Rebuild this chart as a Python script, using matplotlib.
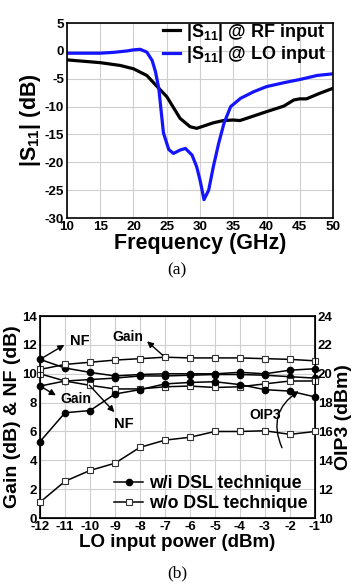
import matplotlib
matplotlib.use("Agg")
import matplotlib.pyplot as plt
from matplotlib.patches import FancyArrowPatch

plt.rcParams['font.family'] = ['Liberation Sans', 'DejaVu Sans']
plt.rcParams['font.weight'] = 'bold'
plt.rcParams['axes.unicode_minus'] = False
plt.rcParams['mathtext.fontset'] = 'custom'
plt.rcParams['mathtext.rm'] = 'Liberation Sans:bold'
plt.rcParams['mathtext.it'] = 'Liberation Sans:bold'
plt.rcParams['mathtext.bf'] = 'Liberation Sans:bold'
plt.rcParams['mathtext.default'] = 'rm'

# ---------------- (a) S11 data ----------------
freq_rf = [10, 12, 15, 18, 20, 22, 23.8, 25, 27, 28.5, 29.5, 30.5, 32, 33.5, 35, 36, 38, 40, 42.6, 44.1, 45, 46, 48, 50]
s11_rf = [-1.6, -1.8, -2.1, -2.6, -3.2, -4.4, -6.7, -8.2, -12.1, -13.6, -13.9, -13.5, -12.9, -12.5, -12.4, -12.5, -11.7, -10.9, -9.9, -8.8, -8.6, -8.6, -7.6, -6.7]

freq_lo = [10, 15, 17, 19, 20, 21, 22, 22.8, 23.3, 23.8, 24.5, 25.3, 26, 27, 27.8, 28.8, 29.5, 30, 30.6, 31.3, 32, 32.8, 33.6, 34.6, 36.1, 38.1, 40, 42.6, 45.1, 47.6, 50]
s11_lo = [-0.4, -0.4, -0.25, 0.0, 0.2, 0.3, -0.2, -1.7, -3.7, -6.7, -14.7, -17.7, -18.4, -17.8, -17.5, -18.7, -20.8, -23.2, -26.7, -25.0, -20.8, -16.6, -13.0, -10.0, -8.5, -7.3, -6.4, -5.7, -5.1, -4.4, -4.1]

# ---------------- (b) data ----------------
lo_power = [-12, -11, -10, -9, -8, -7, -6, -5, -4, -3, -2, -1]
nf_dsl = [11.0, 10.4, 10.1, 9.85, 9.95, 10.0, 10.0, 10.0, 10.1, 10.0, 10.25, 10.35]
gain_dsl = [9.15, 9.5, 9.6, 9.7, 9.85, 9.85, 9.9, 9.95, 9.95, 9.9, 9.8, 9.7]
oip3_dsl = [15.3, 17.3, 17.45, 18.6, 18.9, 19.3, 19.4, 19.45, 19.25, 18.9, 18.8, 18.4]
nf_nodsl = [10.0, 9.5, 9.2, 8.95, 8.95, 9.1, 9.15, 9.05, 9.1, 9.3, 9.5, 9.5]
gain_nodsl = [10.3, 10.65, 10.8, 10.95, 11.05, 11.15, 11.1, 11.1, 11.1, 11.05, 11.0, 10.9]
oip3_nodsl = [11.1, 12.55, 13.3, 13.8, 14.9, 15.4, 15.6, 16.0, 16.0, 16.05, 15.8, 16.0]

fig = plt.figure(figsize=(3.64, 5.87), dpi=100)

grid_kw = dict(color='#cfcfcf', linewidth=0.8)

# ---------------- (a) ----------------
ax1 = fig.add_axes([0.184, 0.6286, 0.731, 0.332])
ax1.plot(freq_rf, s11_rf, color='black', lw=2.3, label='|S$_{11}$| @ RF input')
ax1.plot(freq_lo, s11_lo, color='#1414ff', lw=2.3, label='|S$_{11}$| @ LO input')
ax1.set_xlim(10, 50)
ax1.set_ylim(-30, 5)
ax1.set_xticks(range(10, 51, 5))
ax1.set_yticks(range(-30, 6, 5))
ax1.grid(True, **grid_kw)
ax1.set_axisbelow(True)
ax1.tick_params(length=0, labelsize=9.7, pad=2)
for s in ax1.spines.values():
    s.set_linewidth(1.2)
ax1.set_xlabel('Frequency (GHz)', fontsize=15.5, fontweight='bold', labelpad=0)
ax1.set_ylabel('|S$_{11}$| (dB)', fontsize=15.5, fontweight='bold', labelpad=1)
ax1.legend(loc='upper right', frameon=False, fontsize=13, handlelength=0.95,
           handletextpad=0.3, borderaxespad=0.0, labelspacing=0.1,
           bbox_to_anchor=(1.0, 1.045))
fig.text(0.487, 1 - 270 / 587, '(a)', family='Liberation Serif', fontweight='normal',
         fontsize=12.5, ha='center', va='center')

# ---------------- (b) ----------------
ax2 = fig.add_axes([0.110, 0.1175, 0.755, 0.344])
ax2.set_xlim(-12, -1)
ax2.set_ylim(0, 14)
ax2.set_xticks(lo_power)
ax2.set_yticks(range(0, 15, 2))
ax2.grid(True, **grid_kw)
ax2.set_axisbelow(True)
ax2.tick_params(length=0, labelsize=9.5, pad=2)
for s in ax2.spines.values():
    s.set_linewidth(1.2)

ax3 = ax2.twinx()
ax3.set_ylim(10, 24)
ax3.set_yticks(range(10, 25, 2))
ax3.tick_params(length=0, labelsize=9.5, pad=2)

filled = dict(color='black', lw=1.1, marker='o', ms=4.5, mfc='black', mec='black', clip_on=False, zorder=3)
hollow = dict(color='black', lw=1.1, marker='s', ms=4.5, mfc='white', mec='#333333', mew=0.8, clip_on=False, zorder=3)

ax2.plot(lo_power, nf_dsl, **filled)
ax2.plot(lo_power, gain_dsl, **filled)
ax2.plot(lo_power, nf_nodsl, **hollow)
ax2.plot(lo_power, gain_nodsl, **hollow)
ax3.plot(lo_power, oip3_dsl, label='w/i DSL technique', **filled)
ax3.plot(lo_power, oip3_nodsl, label='w/o DSL technique', **hollow)

ax2.set_xlabel('LO input power (dBm)', fontsize=13.5, fontweight='bold', labelpad=1)
ax2.set_ylabel('Gain (dB) & NF (dB)', fontsize=14, fontweight='bold', labelpad=1)
ax3.set_ylabel('OIP3 (dBm)', fontsize=14, fontweight='bold', labelpad=2)

arrow_kw = dict(arrowstyle='-|>', color='black', lw=1.0, mutation_scale=9)
ax2.annotate('', xy=(-10.93, 12.1), xytext=(-12, 11.0), arrowprops=arrow_kw, annotation_clip=False)
ax2.text(-10.4, 12.3, 'NF', fontsize=10.5, ha='center', va='center')
ax2.annotate('', xy=(-11.27, 8.41), xytext=(-12, 9.15), arrowprops=arrow_kw, annotation_clip=False)
ax2.text(-10.55, 8.25, 'Gain', fontsize=10, ha='center', va='center')
ax2.annotate('', xy=(-8.95, 7.2), xytext=(-10.1, 9.35), arrowprops=arrow_kw)
ax2.text(-8.65, 6.5, 'NF', fontsize=10.5, ha='center', va='center')
ax2.annotate('', xy=(-7.8, 12.38), xytext=(-7.0, 11.15), arrowprops=arrow_kw)
ax2.text(-8.5, 12.52, 'Gain', fontsize=10, ha='center', va='center')
ax2.text(-3.0, 7.15, 'OIP3', fontsize=10, ha='center', va='center')
curve = FancyArrowPatch((-2.27, 4.7), (-1.55, 8.9), connectionstyle='arc3,rad=-0.45',
                        arrowstyle='-|>', mutation_scale=10, color='black', lw=1.0)
ax2.add_patch(curve)

leg = ax3.legend(loc='lower right', frameon=False, fontsize=12.8, handlelength=1.6,
                 handletextpad=0.35, borderaxespad=0.0, labelspacing=0.15,
                 bbox_to_anchor=(1.0, -0.005))

fig.text(0.487, 1 - 573 / 587, '(b)', family='Liberation Serif', fontweight='normal',
         fontsize=12.5, ha='center', va='center')

fig.savefig('out.png', dpi=100)
